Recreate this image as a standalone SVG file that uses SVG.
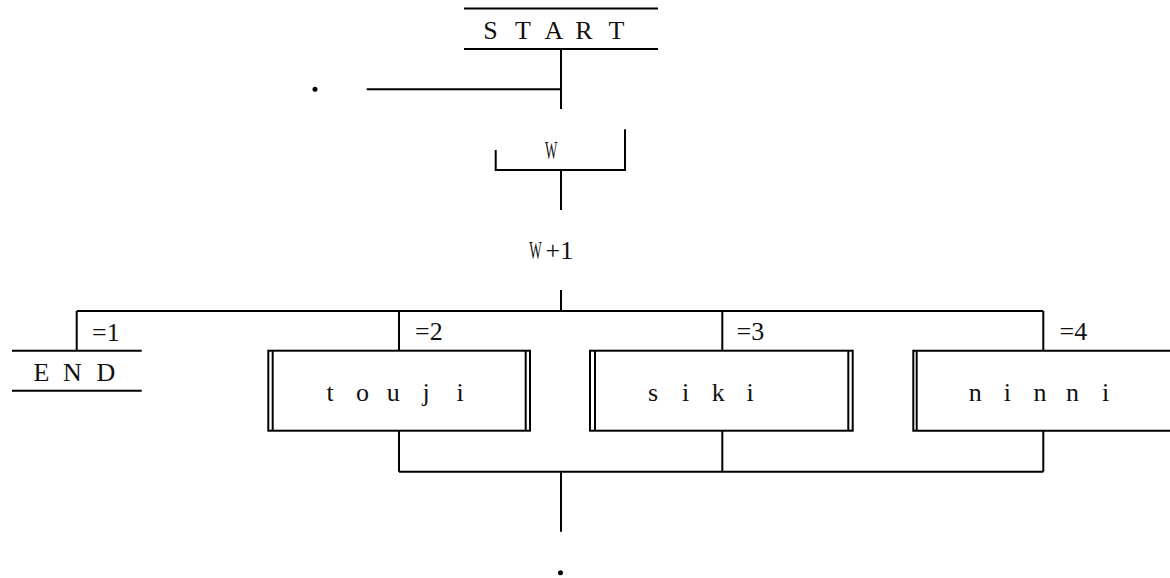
<svg xmlns="http://www.w3.org/2000/svg" width="1170" height="578" viewBox="0 0 1170 578">
  <style>
    .ln { stroke: #000; stroke-width: 2; fill: none; }
    .lbl { font-family: "Liberation Serif", "Noto Sans CJK JP", serif; font-size: 26px; fill: #111; }
    .wide { text-anchor: middle; }
  </style>
  <rect width="1170" height="578" fill="#fff"/>

  <!-- START terminal -->
  <g id="start">
    <line class="ln" x1="464" y1="8.5" x2="658" y2="8.5"/>
    <line class="ln" x1="464" y1="49" x2="658" y2="49"/>
    <text class="lbl wide" x="490.5 523 554 584 616.5" y="39.3">START</text>
  </g>

  <!-- side branch marker -->
  <g id="mark-top">
    <circle cx="315" cy="89.3" r="2.5" fill="#000"/>
  </g>

  <!-- loop head W (condensed glyph) -->
  <g id="loop-w">
    <polyline class="ln" points="495.7,150 495.7,170 625,170 625,129.3"/>
    <text class="lbl" transform="translate(545 159) scale(0.5 1)">W</text>
  </g>

  <!-- selector W+1 (condensed W, regular +1) -->
  <g id="case-w1">
    <text class="lbl" transform="translate(529.3 259.3) scale(0.506 1)">W</text>
    <text class="lbl" x="545.5" y="259.3">+1</text>
  </g>

  <!-- case labels -->
  <g id="case-labels">
    <text class="lbl" x="92" y="341">=1</text>
    <text class="lbl" x="415" y="340">=2</text>
    <text class="lbl" x="736.5" y="340">=3</text>
    <text class="lbl" x="1059.5" y="340">=4</text>
  </g>

  <!-- END terminal -->
  <g id="end">
    <line class="ln" x1="12" y1="350.7" x2="141.7" y2="350.7"/>
    <line class="ln" x1="12" y1="390.7" x2="141.7" y2="390.7"/>
    <text class="lbl wide" x="41.5 72.5 106" y="380.7">END</text>
  </g>

  <!-- subroutine touji -->
  <g id="touji">
    <rect class="ln" x="268.3" y="350.7" width="261.7" height="80"/>
    <line class="ln" x1="272.7" y1="350.7" x2="272.7" y2="430.7"/>
    <line class="ln" x1="525.7" y1="350.7" x2="525.7" y2="430.7"/>
    <text class="lbl wide" x="330 362.5 393.3 426 460" y="400.7">touji</text>
  </g>

  <!-- subroutine siki -->
  <g id="siki">
    <rect class="ln" x="590" y="350.7" width="262.7" height="80"/>
    <line class="ln" x1="595" y1="350.7" x2="595" y2="430.7"/>
    <line class="ln" x1="848.3" y1="350.7" x2="848.3" y2="430.7"/>
    <text class="lbl wide" x="653 685.5 718.3 750" y="400.7">siki</text>
  </g>

  <!-- subroutine ninni -->
  <g id="ninni">
    <polyline class="ln" points="1175,350.7 913.3,350.7 913.3,430.7 1175,430.7"/>
    <line class="ln" x1="916.7" y1="350.7" x2="916.7" y2="430.7"/>
    <text class="lbl wide" x="975.3 1007.3 1040 1072.5 1105.5" y="400.7">ninni</text>
  </g>

  <!-- exit marker -->
  <g id="mark-bottom">
    <circle cx="560.5" cy="572.7" r="2.5" fill="#000"/>
  </g>

  <!-- connectors -->
  <g id="connectors">
    <line class="ln" x1="561" y1="49" x2="561" y2="109"/>
    <line class="ln" x1="366.7" y1="89.3" x2="561" y2="89.3"/>
    <line class="ln" x1="561" y1="170" x2="561" y2="210"/>
    <line class="ln" x1="561" y1="290" x2="561" y2="311"/>
    <line class="ln" x1="76.7" y1="311" x2="1043.3" y2="311"/>
    <line class="ln" x1="76.7" y1="311" x2="76.7" y2="350.7"/>
    <line class="ln" x1="399" y1="311" x2="399" y2="350.7"/>
    <line class="ln" x1="722.3" y1="311" x2="722.3" y2="350.7"/>
    <line class="ln" x1="1043.3" y1="311" x2="1043.3" y2="350.7"/>
    <line class="ln" x1="399" y1="430.7" x2="399" y2="471.7"/>
    <line class="ln" x1="722.3" y1="430.7" x2="722.3" y2="471.7"/>
    <line class="ln" x1="1043.3" y1="430.7" x2="1043.3" y2="471.7"/>
    <line class="ln" x1="399" y1="471.7" x2="1043.3" y2="471.7"/>
    <line class="ln" x1="561" y1="471.7" x2="561" y2="531.7"/>
  </g>
</svg>
